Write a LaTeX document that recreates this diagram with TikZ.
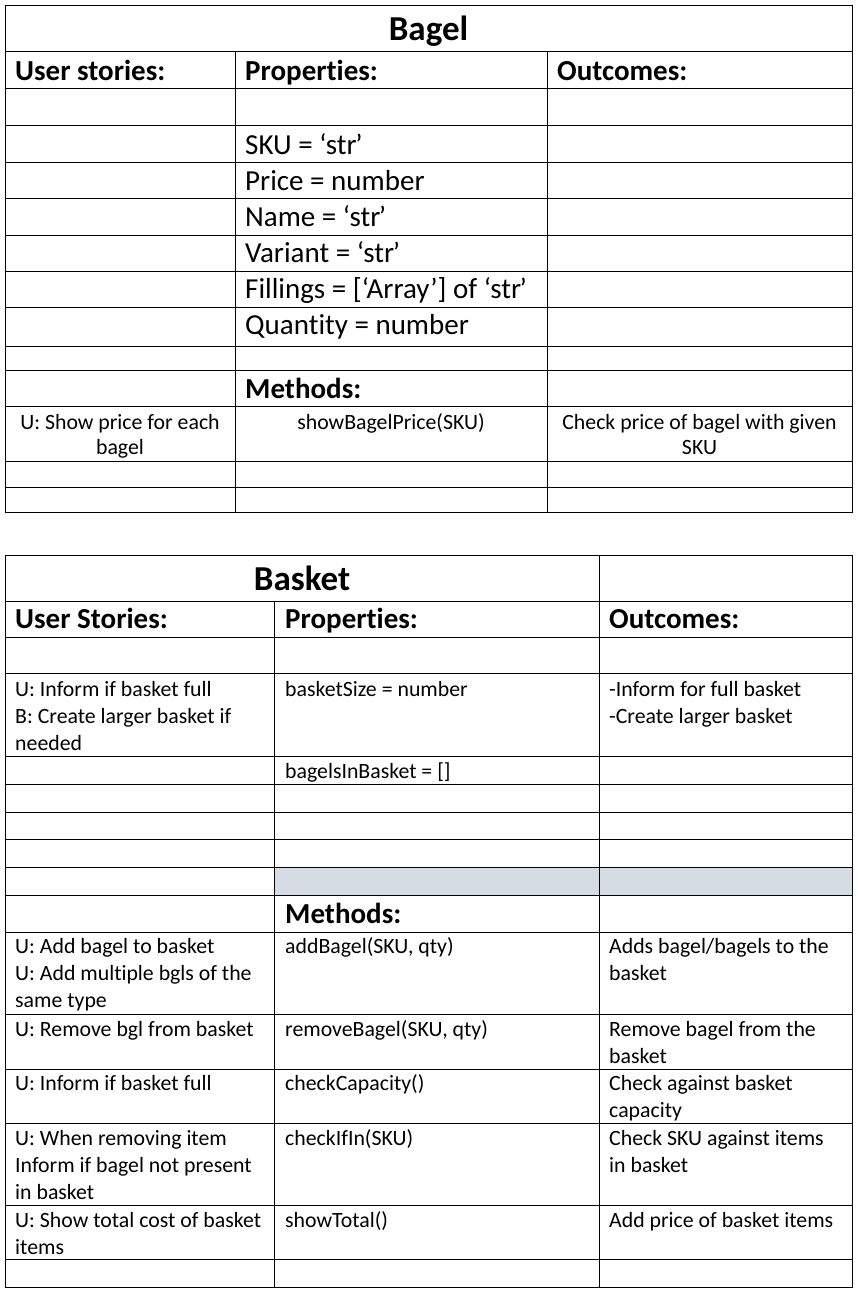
\documentclass[tikz,border=0pt]{standalone}
\usepackage{fontspec}
\setmainfont{Carlito}[Ligatures=NoCommon]
\frenchspacing
\definecolor{rowgray}{HTML}{D6DCE4}
\newcommand{\strtxt}{‘str\kern-1.5pt’}
\tikzset{
  grid/.style={line width=1pt},
  titletxt/.style={font=\fontsize{35}{42}\selectfont\bfseries, anchor=base, inner sep=0},
  headtxt/.style={font=\fontsize{29}{35}\selectfont\bfseries, anchor=base west, inner sep=0},
  proptxt/.style={font=\fontsize{29}{35}\selectfont, anchor=base west, inner sep=0},
  celltxt/.style={font=\fontsize{21.8}{27}\selectfont, anchor=base west, inner sep=0, text width=#1, align=flush left},
  midtxt/.style={font=\fontsize{21.8}{25}\selectfont, anchor=base, inner sep=0, text width=#1, align=flush center}
}
\begin{document}
\begin{tikzpicture}[x=1pt,y=-1pt]
\useasboundingbox (0,0) rectangle (857,1293);
\fill [white] (0,0) rectangle (857,1293);
\draw [grid] (5,5) rectangle (852,512);
\draw [grid] (5,51) -- (852,51) (5,88) -- (852,88) (5,125) -- (852,125) (5,162) -- (852,162) (5,198) -- (852,198) (5,235) -- (852,235) (5,271) -- (852,271);
\draw [grid] (5,307) -- (852,307) (5,346) -- (852,346) (5,370) -- (852,370) (5,406) -- (852,406) (5,461) -- (852,461) (5,487) -- (852,487);
\draw [grid] (235,51) -- (235,512) (547,51) -- (547,512);
\node [titletxt] (bgTitle) at (428.5,40) {Bagel};
\node [headtxt] (bgUser) at (15,80) {User stories:};
\node [headtxt] (bgProp) at (245,80) {Properties:};
\node [headtxt] (bgOut) at (557,80) {Outcomes:};
\node [proptxt] (bgSku) at (245,154) {SKU = \strtxt};
\node [proptxt] (bgPrice) at (245,190) {Price = number};
\node [proptxt] (bgName) at (245,226) {Name = \strtxt};
\node [proptxt] (bgVariant) at (245,262) {Variant = \strtxt};
\node [proptxt] (bgFill) at (245,298) {Fillings = [‘Array’] of \strtxt};
\node [proptxt] (bgQty) at (245,334) {Quantity = number};
\node [headtxt] (bgMeth) at (245,398) {Methods:};
\node [midtxt=226pt] (bgStory) at (120,429) {U: Show price for each\\bagel};
\node [midtxt=300pt] (bgShow) at (391,429) {showBagelPrice(SKU)};
\node [midtxt=300pt] (bgCheck) at (699.5,429) {Check price of bagel with given\\SKU};
\fill [rowgray] (274,867) rectangle (852,895);
\draw [grid] (5,555) rectangle (852,1287);
\draw [grid] (5,601) -- (852,601) (5,637) -- (852,637) (5,673) -- (852,673) (5,756) -- (852,756) (5,784) -- (852,784) (5,812) -- (852,812) (5,839) -- (852,839) (5,867) -- (852,867);
\draw [grid] (5,895) -- (852,895) (5,932) -- (852,932) (5,1014) -- (852,1014) (5,1069) -- (852,1069) (5,1123) -- (852,1123) (5,1205) -- (852,1205) (5,1259) -- (852,1259);
\draw [grid] (274,601) -- (274,1287) (599,555) -- (599,1287);
\node [titletxt] (bkTitle) at (302,590) {Basket};
\node [headtxt] (bkUser) at (15,628) {User Stories:};
\node [headtxt] (bkProp) at (285,628) {Properties:};
\node [headtxt] (bkOut) at (609,628) {Outcomes:};
\node [celltxt=280pt] (bkFull) at (15,696) {U: Inform if basket full\\B: Create larger basket if\\needed};
\node [celltxt=300pt] (bkSize) at (285,696) {basketSize = number};
\node [celltxt=260pt] (bkFullOut) at (609,696) {-Inform for full basket\\-Create larger basket};
\node [celltxt=300pt] (bkList) at (285,778) {bagelsInBasket = []};
\node [headtxt] (bkMeth) at (285,923) {Methods:};
\node [celltxt=280pt] (bkAdd) at (15,953) {U: Add bagel to basket\\U: Add multiple bgls of the\\same type};
\node [celltxt=300pt] (bkAddM) at (285,953) {addBagel(SKU, qty)};
\node [celltxt=260pt] (bkAddOut) at (609,953) {Adds bagel/bagels to the\\basket};
\node [celltxt=280pt] (bkRem) at (15,1036) {U: Remove bgl from basket};
\node [celltxt=300pt] (bkRemM) at (285,1036) {removeBagel(SKU, qty)};
\node [celltxt=260pt] (bkRemOut) at (609,1036) {Remove bagel from the\\basket};
\node [celltxt=280pt] (bkCap) at (15,1090) {U: Inform if basket full};
\node [celltxt=300pt] (bkCapM) at (285,1090) {checkCapacity()};
\node [celltxt=260pt] (bkCapOut) at (609,1090) {Check against basket\\capacity};
\node [celltxt=280pt] (bkIn) at (15,1145) {U: When removing item\\Inform if bagel not present\\in basket};
\node [celltxt=300pt] (bkInM) at (285,1145) {checkIfIn(SKU)};
\node [celltxt=260pt] (bkInOut) at (609,1145) {Check SKU against items\\in basket};
\node [celltxt=280pt] (bkTot) at (15,1227) {U: Show total cost of basket\\items};
\node [celltxt=300pt] (bkTotM) at (285,1227) {showTotal()};
\node [celltxt=260pt] (bkTotOut) at (609,1227) {Add price of basket items};
\end{tikzpicture}
\end{document}
